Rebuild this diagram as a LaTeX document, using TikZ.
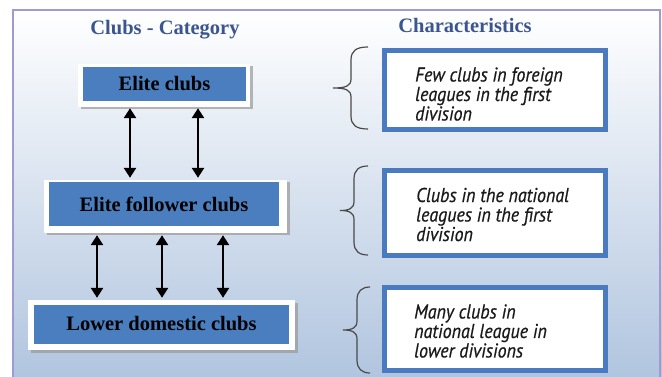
\documentclass[tikz,border=0pt]{standalone}
\usepackage{fontspec}
\setmainfont{Liberation Serif}
\newfontfamily\charfont[FakeStretch=0.9,FakeBold=0.6]{PT Sans}
\usetikzlibrary{arrows.meta,shadows}
\definecolor{boxblue}{HTML}{4A7EBF}
\definecolor{edgeblue}{HTML}{4A7BC0}
\definecolor{titleblue}{HTML}{3A5590}
\definecolor{bgblue}{HTML}{B1C5DF}
\definecolor{bgmid}{HTML}{DCE6F2}
\definecolor{framelav}{HTML}{9F9BD0}
\definecolor{bracegray}{HTML}{4A4A4A}
\definecolor{textgray}{HTML}{1A1A1A}
\newcommand\drawcbrace[5]{% end x, body x, tip x, top y, bottom y
  \pgfmathsetmacro\cbmid{(#4+#5)/2}
  \draw[bracepath] (#1,#4) .. controls (#2+5,#4) and (#2,#4+4) .. (#2,#4+13)
    -- (#2,\cbmid-9) .. controls (#2,\cbmid-2) and (#2-5,\cbmid) .. (#3,\cbmid)
    .. controls (#2-5,\cbmid) and (#2,\cbmid+2) .. (#2,\cbmid+9)
    -- (#2,#5-13) .. controls (#2,#5-4) and (#2+5,#5) .. (#1,#5);
}
\tikzset{
  framebox/.style={fill=white, draw=none, inner sep=0pt,
    drop shadow={shadow xshift=2.5pt, shadow yshift=-2.5pt, fill=black!40, opacity=0.7}},
  bluebox/.style={fill=boxblue, draw=none, inner sep=0pt,
    font=\fontsize{20.5}{24}\selectfont\bfseries, text=black},
  titletext/.style={font=\fontsize{20.5}{24}\selectfont\bfseries, text=titleblue, inner sep=0pt},
  charbox/.style={draw=edgeblue, line width=5pt, fill=white, inner sep=0pt,
    minimum width=221pt},
  chartext/.style={font=\charfont\itshape\fontsize{20}{19.5}\selectfont, text=textgray,
    align=left, anchor=west, inner sep=0pt},
  twoarrow/.style={line width=2.6pt, black,
    {Triangle[width=12pt,length=10pt]}-{Triangle[width=12pt,length=10pt]}},
  bracepath/.style={draw=bracegray, line width=1.2pt}
}
\begin{document}
\begin{tikzpicture}[x=1pt,y=-1pt]
\useasboundingbox (0,0) rectangle (662,377);
\fill[white] (0,0) rectangle (662,377);
\shade[top color=white, middle color=bgmid, bottom color=bgblue] (13,10) rectangle (662,377);
\draw[framelav, line width=1.5pt] (13,380) -- (13,10) -- (660,10) -- (660,380);

% titles
\node[titletext, anchor=base] (t1) at (165,35) {Clubs - Category};
\node[titletext, anchor=base] (t2) at (465,33) {Characteristics};

% left boxes
\node[framebox, minimum width=172pt, minimum height=43pt] (eliteF) at (164,85.5) {};
\node[bluebox, minimum width=163pt, minimum height=34pt] (elite) at (164.5,84) {Elite clubs};
\node[framebox, minimum width=243pt, minimum height=53pt] (follF) at (165.5,206.5) {};
\node[bluebox, minimum width=230pt, minimum height=44pt] (foll) at (164,204) {Elite follower clubs};
\node[framebox, minimum width=267pt, minimum height=50pt] (lowF) at (161.5,325) {};
\node[bluebox, minimum width=255pt, minimum height=39pt] (low) at (161.5,324) {Lower domestic clubs};

% arrows
\coordinate (ax1) at (130,0);
\coordinate (ax2) at (198,0);
\coordinate (bx1) at (97,0);
\coordinate (bx2) at (162,0);
\coordinate (bx3) at (223,0);
\draw[twoarrow] ([yshift=-1pt]ax1 |- eliteF.south) -- ([yshift=2pt]ax1 |- follF.north);
\draw[twoarrow] ([yshift=-1pt]ax2 |- eliteF.south) -- ([yshift=2pt]ax2 |- follF.north);
\draw[twoarrow] ([yshift=-2pt]bx1 |- follF.south) -- ([yshift=2pt]bx1 |- lowF.north);
\draw[twoarrow] ([yshift=-2pt]bx2 |- follF.south) -- ([yshift=2pt]bx2 |- lowF.north);
\draw[twoarrow] ([yshift=-2pt]bx3 |- follF.south) -- ([yshift=2pt]bx3 |- lowF.north);

% right boxes
\node[charbox, minimum height=79pt] (c1) at (495,90) {};
\node[charbox, minimum height=85pt] (c2) at (495,213) {};
\node[charbox, minimum height=83pt] (c3) at (495,329) {};
\node[chartext] (c1t) at (415,94) {Few clubs in foreign\\leagues in the first\\division};
\node[chartext] (c2t) at (416,214.5) {Clubs in the national\\leagues in the first\\division};
\node[chartext] (c3t) at (414,331) {Many clubs in\\national league in\\lower divisions};

% braces
\drawcbrace{368}{351}{333}{47}{129}
\drawcbrace{368}{354}{340}{166}{255}
\drawcbrace{370}{357}{343}{287}{373}
\end{tikzpicture}
\end{document}
